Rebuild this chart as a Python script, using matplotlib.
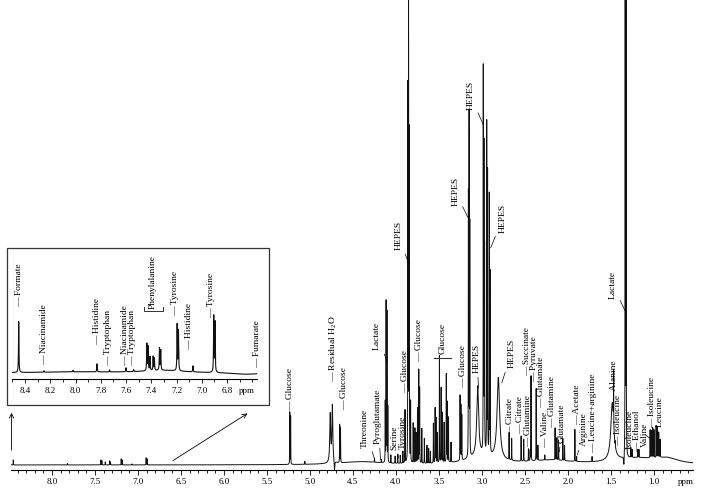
import numpy as np
import matplotlib
matplotlib.use("Agg")
import matplotlib.pyplot as plt
from matplotlib.patches import Rectangle

plt.rcParams['font.family'] = ['Liberation Serif', 'DejaVu Serif']
plt.rcParams['mathtext.fontset'] = 'custom'
plt.rcParams['mathtext.rm'] = 'Liberation Serif'

# ---- main spectrum peaks: position (ppm), height, half width ----
main_ppm = [8.45, 7.82, 7.43, 7.42, 7.38, 7.33, 7.32, 7.195, 7.185, 7.07, 6.905, 6.895,
            5.235, 5.225, 5.06, 4.765, 4.74, 4.655, 4.645, 4.25, 4.17,
            4.125, 4.115, 4.105, 4.095, 4.06, 4.01, 3.98, 3.95, 3.92, 3.895,
            3.862, 3.854, 3.846, 3.83, 3.80, 3.78, 3.765, 3.75, 3.735, 3.725, 3.70,
            3.67, 3.64, 3.62, 3.60, 3.565, 3.545, 3.535, 3.52, 3.495, 3.475, 3.46,
            3.44, 3.415, 3.405, 3.39, 3.36, 3.255, 3.245, 3.235,
            3.158, 3.150, 3.142, 3.05, 2.985, 2.977, 2.97, 2.945, 2.935, 2.915, 2.905,
            2.81, 2.685, 2.655, 2.545, 2.515, 2.46, 2.44, 2.43, 2.37, 2.35, 2.27,
            2.15, 2.13, 2.11, 2.06, 2.04, 1.92, 1.90, 1.72,
            1.485, 1.47, 1.45, 1.335, 1.325, 1.27, 1.255, 1.19, 1.175,
            1.045, 1.03, 1.015, 1.00, 0.975, 0.96, 0.945, 0.93,
            4.4, 3.0, 2.2, 1.2, 0.85, 4.715, 1.35]
main_height = [5, 1.5, 5, 4, 3, 4, 3, 6, 5, 1, 7, 6,
               52, 48, 3, 48, 57, 38, 35, 4, 3,
               60, 160, 150, 55, 8, 7, 9, 8, 12, 53,
               370, 520, 325, 60, 40, 35, 30, 55, 93, 75, 35,
               25, 18, 15, 12, 40, 55, 45, 30, 107, 75, 50,
               40, 88, 60, 45, 20, 65, 55, 45,
               261, 338, 230, 70, 381, 300, 200, 329, 280, 258, 180,
               82, 27, 22, 25, 22, 12, 10, 85, 72, 15, 5,
               32, 22, 20, 22, 15, 32, 5, 5,
               58, 54, 5, 700, 650, 10, 8, 8, 8,
               28, 27, 30, 28, 32, 30, 25, 18,
               3, 8, 4, 6, 5, -10, -12]
main_width = [0.0012] * 108 + [0.3, 0.2, 0.3, 0.3, 0.15, 0.004, 0.005]
main_width[15] = 0.006   # residual water
main_width[16] = 0.006
main_width[64] = 0.013   # broad HEPES 3.05
main_width[72] = 0.018   # broad HEPES 2.8
main_width[91] = 0.02

# ---- inset (aromatic region) peaks ----
inset_ppm = [8.45, 8.25, 8.02, 7.83, 7.73, 7.60, 7.54, 7.435, 7.425, 7.41, 7.385,
             7.375, 7.335, 7.325, 7.195, 7.185, 7.07, 6.905, 6.895, 6.52,
             7.3, 8.0, 6.65]
inset_height = [51, 1.5, 1.5, 8, 2, 4, 2, 27, 24, 14, 14,
                12, 22, 20, 46, 40, 6, 56, 50, 1,
                2.5, 1.0, -1.5]
inset_width = [0.002] * 20 + [0.2, 0.4, 0.12]

# ---- labels ----
# dash labels: name, ppm, bottom of text (px from top of the image)
dash_names = ['Glucose', 'Residual H$_2$O', 'Glucose', 'Glucose', 'Glucose', 'Glucose',
              'Citrate', 'Citrate', 'Glutamine', 'Succinate', 'Pyruvate', 'Glutamate',
              'Valine', 'Glutamine', 'Acetate', 'Leucine+arginine', 'Alanine',
              'Isoleucine', 'Ethanol', 'Isoleucine']
dash_ppm = [5.23, 4.73, 4.60, 3.89, 3.73, 3.22,
            2.67, 2.555, 2.465, 2.48, 2.39, 2.31,
            2.27, 2.19, 1.90, 1.71, 1.47,
            1.42, 1.195, 1.02]
dash_px = [411, 382, 410, 393, 362, 388,
           436, 434, 447, 376, 382, 408,
           448, 428, 425, 453, 402,
           446, 452, 428]

# leader labels: name, text ppm, text bottom px, target ppm, target px
lead_names = ['Threonine', 'Pyroglutamate', 'Lactate', 'Serine', 'Tyrosine', 'HEPES',
              'HEPES', 'HEPES', 'HEPES', 'HEPES', 'HEPES', 'Glutamate', 'Arginine',
              'Lactate', 'Isoleucine', 'Valine', 'Leucine']
lead_ppm = [4.36, 4.21, 4.22, 4.015, 3.925, 3.97,
            3.31, 3.06, 3.13, 2.76, 2.66, 2.07, 1.82,
            1.48, 1.285, 1.105, 0.93]
lead_px = [448, 444, 350, 450, 449, 250,
           206, 373, 110, 233, 368, 443, 446,
           299, 449, 447, 427]
lead_tppm = [4.25, 4.18, 4.10, 3.97, 3.90, 3.855,
             3.16, 3.04, 2.985, 2.90, 2.77, 2.10, 1.89,
             1.335, 1.26, 1.05, 0.96]
lead_tpx = [459, 460, 362, 458, 457, 263,
            218, 388, 125, 248, 383, 452, 455,
            311, 455, 438, 436]

inset_names = ['Formate', 'Niacinamide', 'Histidine', 'Tryptophan', 'Niacinamide',
               'Tryptophan', 'Tyrosine', 'Histidine', 'Tyrosine', 'Fumarate']
inset_lppm = [8.45, 8.25, 7.83, 7.74, 7.61, 7.55, 7.21, 7.10, 6.93, 6.56]
inset_lpx = [307, 365, 345, 366, 366, 366, 316, 350, 318, 368]

W, H = 703, 497
BASE = 465     # main baseline, px from top
IBASE = 373    # inset baseline
FS = 6.8


def lorentz(x, ppm, height, width):
    out = np.zeros_like(x)
    for c, h, w in zip(ppm, height, width):
        out += h / (1 + ((x - c) / w) ** 2)
    return out


fig = plt.figure(figsize=(W / 100, H / 100), dpi=100)

# main axes
L, R = 10.7, 692.7
ax = fig.add_axes([L / W, 1 - 470 / H, (R - L) / W, 470 / H])
x = np.linspace(8.48, 0.55, 60000)
y = lorentz(x, main_ppm, main_height, main_width)
ax.plot(x, y, color='#111111', lw=0.7)
ax.set_xlim(8.48, 0.55)
ax.set_ylim(-5, BASE)
for s in ['left', 'right', 'top']:
    ax.spines[s].set_visible(False)
ax.spines['bottom'].set_linewidth(0.8)
ax.set_yticks([])
ax.set_xticks(np.arange(8.0, 0.99, -0.5))
ax.set_xticklabels(['%.1f' % v for v in np.arange(8.0, 0.99, -0.5)])
ax.set_xticks(np.arange(8.4, 0.55, -0.1), minor=True)
ax.tick_params(axis='x', which='major', direction='out', length=3.6, width=0.6,
               labelsize=6.5, pad=2.5)
ax.tick_params(axis='x', which='minor', direction='out', length=2.2, width=0.6)
ax.annotate('ppm', xy=(0.63, 0), xycoords=('data', 'axes fraction'),
            xytext=(0, -6.1), textcoords='offset points', ha='center', va='top', fontsize=6.5)

for name, p, px in zip(dash_names, dash_ppm, dash_px):
    ax.text(p, BASE - px, '\u2014 ' + name, rotation=90, ha='center', va='bottom',
            fontsize=FS, clip_on=False)
for name, p, px, tp, tpx in zip(lead_names, lead_ppm, lead_px, lead_tppm, lead_tpx):
    ax.annotate(name, xy=(tp, BASE - tpx), xytext=(p, BASE - px), rotation=90,
                ha='center', va='bottom', fontsize=FS,
                arrowprops=dict(arrowstyle='-', lw=0.5, shrinkA=1, shrinkB=0))

# glucose bracket at 3.49
ax.text(3.46, BASE - 354, 'Glucose', rotation=90, ha='center', va='bottom', fontsize=FS)
ax.plot([3.56, 3.36], [BASE - 358, BASE - 358], color='#333333', lw=0.8)

# arrows pointing to the inset
ax.annotate('', xy=(8.47, 55), xytext=(8.47, 12),
            arrowprops=dict(arrowstyle='->', lw=0.6, mutation_scale=8))
ax.annotate('', xy=(5.70, 53), xytext=(6.62, 3),
            arrowprops=dict(arrowstyle='->', lw=0.6, mutation_scale=8))

# inset
fig.add_artist(Rectangle((7 / W, 1 - 405 / H), 262 / W, 157 / H, transform=fig.transFigure,
                         fill=False, lw=0.9, edgecolor='#333333'))
IL, IR = 12.4, 257.3
ia = fig.add_axes([IL / W, 1 - 379 / H, (IR - IL) / W, 100 / H])
xi = np.linspace(8.5, 6.56, 20000)
yi = lorentz(xi, inset_ppm, inset_height, inset_width)
ia.plot(xi, yi, color='#111111', lw=0.8)
ia.set_xlim(8.5, 6.56)
ia.set_ylim(-6, 94)
for s in ['left', 'right', 'top']:
    ia.spines[s].set_visible(False)
ia.spines['bottom'].set_linewidth(0.8)
ia.set_yticks([])
ia.set_xticks(np.arange(8.4, 6.75, -0.2))
ia.set_xticklabels(['%.1f' % v for v in np.arange(8.4, 6.75, -0.2)])
ia.set_xticks(np.arange(8.5, 6.55, -0.1), minor=True)
ia.tick_params(axis='x', which='major', direction='out', length=3.0, width=0.6,
               labelsize=6.5, pad=2.5)
ia.tick_params(axis='x', which='minor', direction='out', length=2.0, width=0.6)
ia.annotate('ppm', xy=(6.64, 0), xycoords=('data', 'axes fraction'),
            xytext=(0, -5.5), textcoords='offset points', ha='center', va='top', fontsize=6.5)

for name, p, px in zip(inset_names, inset_lppm, inset_lpx):
    ia.text(p, IBASE - px, '\u2014 ' + name, rotation=90, ha='center', va='bottom',
            fontsize=FS, clip_on=False)
ia.text(7.39, IBASE - 309, 'Phenylalanine', rotation=90, ha='center', va='bottom', fontsize=FS)
ia.plot([7.46, 7.46, 7.31, 7.31], [IBASE - 307, IBASE - 311, IBASE - 311, IBASE - 307],
        color='#333333', lw=0.7)

fig.savefig('out.png', dpi=100)
plt.close(fig)
